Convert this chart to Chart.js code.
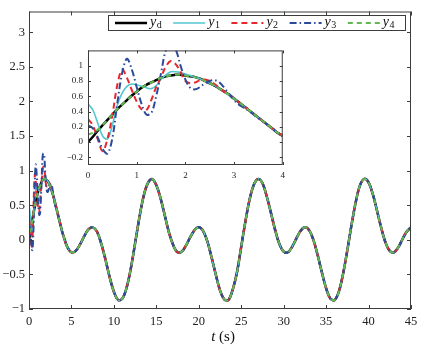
<!DOCTYPE html>
<html>
<head>
<meta charset="utf-8">
<script src="https://cdn.jsdelivr.net/npm/chart.js@4/dist/chart.umd.min.js"></script>
<style>
  html, body { margin:0; padding:0; background:#fff; }
  #wrap { position:relative; width:427px; height:347px; }
  #main { position:absolute; left:0; top:0; }
  #inset { position:absolute; left:55px; top:40px; }
</style>
</head>
<body>
<div id="wrap">
  <canvas id="main" width="427" height="347" style="width:427px;height:347px"></canvas>
  <canvas id="inset" width="235" height="140" style="width:235px;height:140px"></canvas>
</div>
<script>
// time samples (s): fine steps during the transient, coarser afterwards
const time = [0,0.1,0.2,0.3,0.4,0.5,0.6,0.7,0.8,0.9,1,1.1,1.2,1.3,1.4,1.5,1.6,1.7,1.8,1.9,
  2,2.1,2.2,2.3,2.4,2.5,2.6,2.7,2.8,2.9,3,3.1,3.2,3.3,3.4,3.5,3.6,3.7,3.8,3.9,4,
  4.5,5,5.5,6,6.5,7,7.5,8,8.5,9,9.5,10,10.5,11,11.5,12,12.5,13,13.5,14,14.5,15,15.5,16,16.5,
  17,17.5,18,18.5,19,19.5,20,20.5,21,21.5,22,22.5,23,23.5,24,24.5,25,25.5,26,26.5,27,27.5,
  28,28.5,29,29.5,30,30.5,31,31.5,32,32.5,33,33.5,34,34.5,35,35.5,36,36.5,37,37.5,38,38.5,
  39,39.5,40,40.5,41,41.5,42,42.5,43,43.5,44,44.5,45];

// reference y_d
const yd = [0,0.07,0.15,0.22,0.29,0.36,0.43,0.49,0.55,0.61,0.66,0.71,0.75,0.78,0.81,0.84,0.86,0.87,0.88,0.88,
  0.87,0.86,0.85,0.83,0.80,0.77,0.74,0.70,0.66,0.62,0.57,0.52,0.47,0.42,0.37,0.32,0.27,0.22,0.17,0.12,0.08,
  -0.10,-0.18,-0.16,-0.07,0.05,0.15,0.18,0.12,-0.05,-0.28,
  -0.54,-0.75,-0.87,-0.85,-0.69,-0.41,-0.05,0.32,0.63,0.82,
  0.88,0.79,0.60,0.35,0.10,-0.08,-0.18,-0.17,-0.08,0.04,
  0.14,0.18,0.13,-0.02,-0.25,-0.50,-0.73,-0.86,-0.87,-0.72,
  -0.47,-0.10,0.27,0.59,0.80,0.88,0.82,0.63,0.39,0.14,
  -0.06,-0.17,-0.18,-0.10,0.02,0.13,0.18,0.14,0.00,-0.22,
  -0.47,-0.70,-0.85,-0.87,-0.75,-0.49,-0.15,0.22,0.55,0.79,
  0.88,0.83,0.66,0.42,0.17,-0.04,-0.16,-0.18,-0.11,0.01,
  0.12,0.18];

// transient part of each output; after it the curve sits on y_d
const y1Head = [0.50,0.42,0.25,0.08,0.04,0.22,0.48,0.64,0.73,0.76,0.75,0.73,0.71,0.70,0.74,0.82,0.88,0.92,0.92,0.91,
  0.89,0.87,0.85,0.83,0.80,0.77,0.74,0.70,0.66,0.61];
const y2Head = [0.30,0.22,0.04,-0.12,0.04,0.35,0.74,0.95,0.84,0.68,0.53,0.43,0.42,0.55,0.72,0.85,0.99,1.06,1.02,0.92,
  0.80,0.77,0.78,0.81,0.82,0.80,0.76,0.71,0.66,0.62];
const y3Head = [0.22,0.18,0.06,-0.09,-0.15,0.05,0.50,0.90,1.09,0.95,0.72,0.50,0.36,0.38,0.60,0.90,1.20,1.25,1.21,1.00,
  0.82,0.71,0.69,0.72,0.77,0.80,0.81,0.78,0.71,0.63,0.55,0.49,0.45,0.41,0.36,0.31];
const y4Head = [0.10,0.12,0.16,0.22];

const seriesSubs = ['d','1','2','3','4'];
const xTicks = [0,5,10,15,20,25,30,35,40,45];
const yTicks = [-1,-0.5,0,0.5,1,1.5,2,2.5,3];
const insetXTicks = [0,1,2,3,4];
const insetYTicks = [-0.2,0,0.2,0.4,0.6,0.8,1];

const full = head => head.concat(yd.slice(head.length));
const series = [yd, full(y1Head), full(y2Head), full(y3Head), full(y4Head)];
const styles = [
  {color:'#000000', width:2.5, dash:[]},
  {color:'#55c6d0', width:1.6, dash:[]},
  {color:'#e8262b', width:2, dash:[6,4]},
  {color:'#2c4a9c', width:2, dash:[7,3,1.5,3]},
  {color:'#62b94f', width:2, dash:[5,4]}
];

Chart.defaults.font.family = '"Liberation Serif", "DejaVu Serif", serif';
Chart.defaults.color = '#222';

function makeSets(n) {
  return series.map((ys, i) => ({
    data: time.slice(0, n).map((t, k) => ({x: t, y: ys[k]})),
    borderColor: styles[i].color,
    borderWidth: styles[i].width,
    borderDash: styles[i].dash,
    pointRadius: 0,
    tension: 0.35,
    fill: false,
    order: 4 - i
  }));
}

const fmt = v => (v < 0 ? '\u2212' : '') + Math.abs(v);

function axis(ticks, min, max, size, pad, fit) {
  return {
    type: 'linear', min, max,
    afterBuildTicks: s => { s.ticks = ticks.map(v => ({value: v})); },
    afterFit: fit,
    grid: {display:false, drawTicks:false},
    border: {display:false},
    ticks: {autoSkip:false, maxRotation:0, padding:pad, font:{size}, callback: fmt}
  };
}

// box round the plot with inward ticks on all four sides
const boxTicks = len => ({
  id: 'boxTicks',
  beforeDatasetsDraw(chart) {
    const {ctx, chartArea: a} = chart;
    ctx.save(); ctx.fillStyle = '#fff';
    ctx.fillRect(a.left, a.top, a.right - a.left, a.bottom - a.top); ctx.restore();
  },
  afterDraw(chart) {
    const {ctx, chartArea: a, scales: {x, y}} = chart;
    ctx.save();
    ctx.strokeStyle = '#3c3c3c'; ctx.lineWidth = 1; ctx.setLineDash([]);
    ctx.strokeRect(a.left + 0.5, a.top + 0.5, a.right - a.left - 1, a.bottom - a.top - 1);
    ctx.beginPath();
    x.ticks.forEach(t => {
      const px = Math.round(x.getPixelForValue(t.value)) + 0.5;
      ctx.moveTo(px, a.bottom); ctx.lineTo(px, a.bottom - len);
      ctx.moveTo(px, a.top); ctx.lineTo(px, a.top + len);
    });
    y.ticks.forEach(t => {
      const py = Math.round(y.getPixelForValue(t.value)) + 0.5;
      ctx.moveTo(a.left, py); ctx.lineTo(a.left + len, py);
      ctx.moveTo(a.right, py); ctx.lineTo(a.right - len, py);
    });
    ctx.stroke(); ctx.restore();
  }
});

// legend box and the "t (s)" axis title
const decorations = {
  id: 'decorations',
  afterDraw(chart) {
    const ctx = chart.ctx;
    ctx.save();
    ctx.fillStyle = '#fff'; ctx.fillRect(108, 15, 297, 16);
    ctx.strokeStyle = '#3c3c3c'; ctx.lineWidth = 1; ctx.setLineDash([]);
    ctx.strokeRect(108.5, 15.5, 297, 15);
    chart.data.datasets.forEach((ds, i) => {
      const x0 = 115 + i * 58.2, yc = 23;
      ctx.beginPath();
      ctx.strokeStyle = ds.borderColor; ctx.lineWidth = ds.borderWidth;
      ctx.setLineDash(ds.borderDash);
      ctx.moveTo(x0, yc); ctx.lineTo(x0 + 32, yc); ctx.stroke();
      ctx.setLineDash([]);
      ctx.fillStyle = '#111'; ctx.textBaseline = 'alphabetic'; ctx.textAlign = 'left';
      ctx.font = 'italic 14px "Liberation Serif"';
      ctx.fillText('y', x0 + 35, yc + 3);
      const w = ctx.measureText('y').width;
      ctx.font = '10px "Liberation Serif"';
      ctx.fillText(seriesSubs[i], x0 + 35 + w + 0.5, yc + 5);
    });
    ctx.fillStyle = '#111'; ctx.textBaseline = 'middle';
    ctx.font = 'italic 15px "Liberation Serif"';
    const tw = ctx.measureText('t').width;
    ctx.font = '15px "Liberation Serif"';
    const sw = ctx.measureText(' (s)').width;
    const x0 = 223 - (tw + sw) / 2;
    ctx.font = 'italic 15px "Liberation Serif"';
    ctx.fillText('t', x0, 337);
    ctx.font = '15px "Liberation Serif"';
    ctx.fillText(' (s)', x0 + tw, 337);
    ctx.restore();
  }
};

new Chart(document.getElementById('main'), {
  type: 'line',
  data: {datasets: makeSets(time.length)},
  options: {
    responsive: false, animation: false,
    layout: {padding: {left:0, top:9, right:16, bottom:0}},
    plugins: {legend: {display:false}, tooltip: {enabled:false}},
    scales: {
      x: axis(xTicks, 0, 45, 12.5, 5, s => { s.height = 38; }),
      y: axis(yTicks, -1, 3.3, 12.5, 4, s => { s.width = 29; })
    }
  },
  plugins: [boxTicks(4), decorations]
});

new Chart(document.getElementById('inset'), {
  type: 'line',
  data: {datasets: makeSets(41)},
  options: {
    responsive: false, animation: false,
    layout: {padding: {left:0, top:8, right:5, bottom:0}},
    plugins: {legend: {display:false}, tooltip: {enabled:false}},
    scales: {
      x: axis(insetXTicks, 0, 4, 9, 5, s => { s.height = 15; }),
      y: axis(insetYTicks, -0.3, 1.2, 9, 5, s => { s.width = 33; })
    }
  },
  plugins: [boxTicks(3)]
});
</script>
</body>
</html>
